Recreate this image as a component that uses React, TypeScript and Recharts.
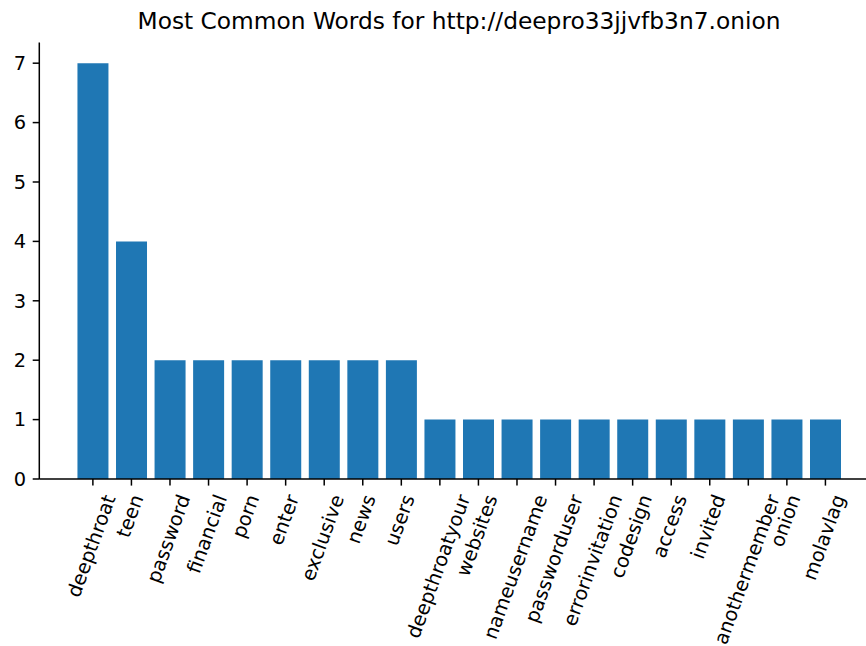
import React from "react";
import { BarChart, Bar, XAxis, YAxis } from "recharts";

// Word frequencies scraped from the site
const words = [
  "deepthroat",
  "teen",
  "password",
  "financial",
  "porn",
  "enter",
  "exclusive",
  "news",
  "users",
  "deepthroatyour",
  "websites",
  "nameusername",
  "passworduser",
  "errorinvitation",
  "codesign",
  "access",
  "invited",
  "anothermember",
  "onion",
  "molavlag",
];
const counts = [7, 4, 2, 2, 2, 2, 2, 2, 2, 1, 1, 1, 1, 1, 1, 1, 1, 1, 1, 1];
const yTicks = [0, 1, 2, 3, 4, 5, 6, 7];
const title = "Most Common Words for http://deepro33jjvfb3n7.onion";

const data = words.map((word, i) => ({ word, count: counts[i] }));

const FONT = '"DejaVu Sans", sans-serif';
const TICK_FONT = 19.4;
const TITLE_FONT = 23.3;
const BAR_COLOR = "#1f77b4";
const ROTATION = 70;

let ctx: CanvasRenderingContext2D | null = null;
const measure = (s: string) => {
  if (!ctx) ctx = document.createElement("canvas").getContext("2d");
  if (!ctx) return s.length * TICK_FONT * 0.6;
  ctx.font = `${TICK_FONT}px "DejaVu Sans"`;
  return ctx.measureText(s).width;
};

// Rotated category label whose bounding box is centred under its tick
const RotatedTick = (props: any) => {
  const { x, y, payload } = props;
  const label = String(payload.value);
  const w = measure(label);
  const h = TICK_FONT * 1.16;
  const a = (ROTATION * Math.PI) / 180;
  const cx = x;
  const cy = y + (w / 2) * Math.sin(a) + (h / 2) * Math.cos(a);
  return (
    <text
      x={cx}
      y={cy}
      dy="0.26em"
      textAnchor="middle"
      transform={`rotate(${-ROTATION} ${cx} ${cy})`}
      fontFamily={FONT}
      fontSize={TICK_FONT}
      fill="#000"
    >
      {label}
    </text>
  );
};

export default function App() {
  return (
    <div
      style={{
        position: "fixed",
        left: 0,
        top: 0,
        width: 866,
        height: 646,
        overflow: "hidden",
        background: "#fff",
      }}
    >
      <BarChart
        width={900}
        height={646}
        data={data}
        margin={{ top: 42.4, right: 21, bottom: 0, left: 0 }}
        barCategoryGap="10%"
      >
        <XAxis
          dataKey="word"
          height={167}
          interval={0}
          padding={{ left: 34.3, right: 34.3 }}
          tick={<RotatedTick />}
          tickSize={6.6}
          tickMargin={6.6}
          tickLine={{ stroke: "#000", strokeWidth: 1.5 }}
          axisLine={{ stroke: "#000", strokeWidth: 1.5 }}
        />
        <XAxis
          xAxisId="top"
          dataKey="word"
          orientation="top"
          height={0}
          tick={false}
          tickLine={false}
          axisLine={{ stroke: "#000", strokeWidth: 1.5 }}
        />
        <YAxis
          width={39.3}
          domain={[0, 7.35]}
          ticks={yTicks}
          interval={0}
          tickSize={6.6}
          tickMargin={6.6}
          tick={{ fontFamily: FONT, fontSize: TICK_FONT, fill: "#000" }}
          tickLine={{ stroke: "#000", strokeWidth: 1.5 }}
          axisLine={{ stroke: "#000", strokeWidth: 1.5 }}
        />
        <Bar dataKey="count" fill={BAR_COLOR} isAnimationActive={false} />
      </BarChart>
      <svg
        width={866}
        height={646}
        style={{ position: "absolute", left: 0, top: 0, pointerEvents: "none" }}
      >
        <text
          x={459}
          y={29}
          textAnchor="middle"
          fontFamily={FONT}
          fontSize={TITLE_FONT}
          fill="#000"
        >
          {title}
        </text>
      </svg>
    </div>
  );
}
